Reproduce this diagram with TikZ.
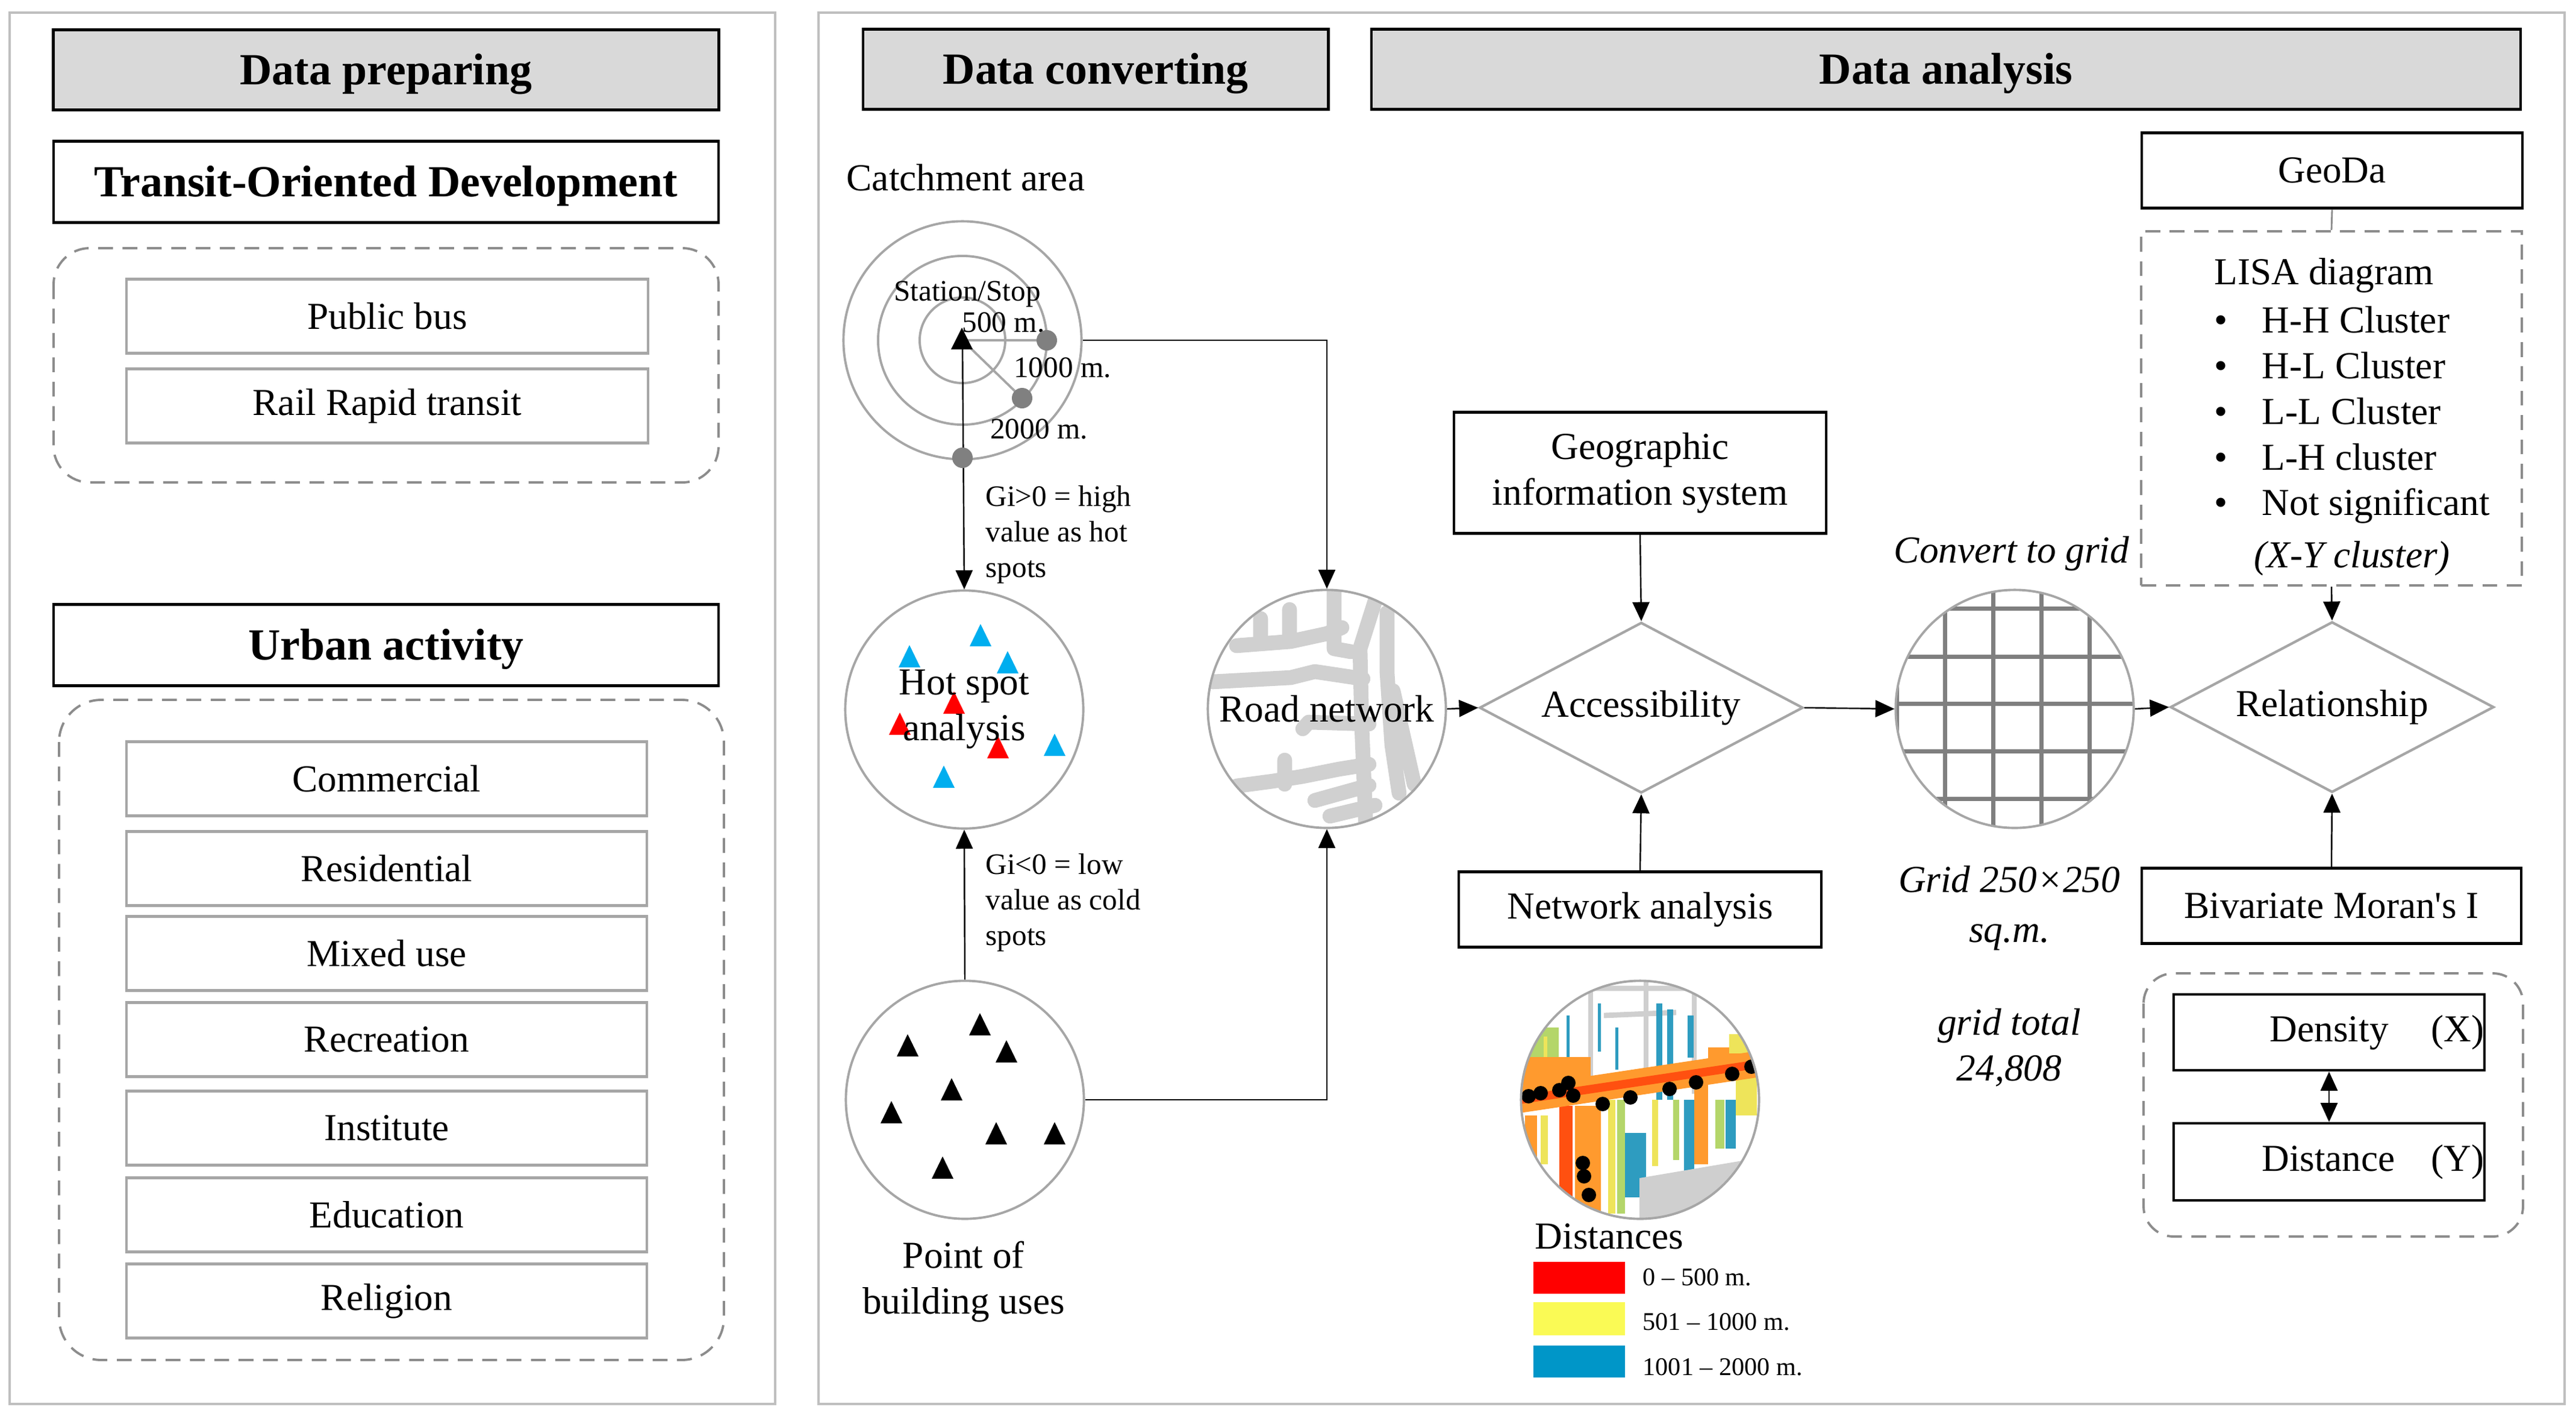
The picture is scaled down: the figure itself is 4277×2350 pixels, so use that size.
\documentclass[tikz,border=0pt]{standalone}
\usepackage{fontspec}
\setmainfont{Liberation Serif}
\usetikzlibrary{arrows.meta,shapes.geometric}
\definecolor{headgray}{HTML}{D9D9D9}
\definecolor{framegray}{HTML}{BFBFBF}
\definecolor{linegray}{HTML}{A6A6A6}
\definecolor{dashgray}{HTML}{8C8C8C}
\definecolor{roadgray}{HTML}{D0D0D0}
\definecolor{gridgray}{HTML}{7F7F7F}
\definecolor{dotgray}{HTML}{808080}
\definecolor{hotblue}{HTML}{00AEEF}
\definecolor{hotred}{HTML}{FF0000}
\definecolor{legred}{HTML}{FF0000}
\definecolor{legyellow}{HTML}{FAFA55}
\definecolor{legblue}{HTML}{0096C8}
\definecolor{maporange}{HTML}{FF9A2E}
\definecolor{mapred}{HTML}{FF5010}
\definecolor{mapyellow}{HTML}{EEE45A}
\definecolor{mapgreen}{HTML}{B4D66A}
\definecolor{mapteal}{HTML}{2E9CC0}
\definecolor{mapgray}{HTML}{CFCFCF}
\tikzset{
  txt/.style={font=\fontsize{18}{21.6}\selectfont, inner sep=0pt, align=center},
  smalltxt/.style={font=\fontsize{14}{16.8}\selectfont, inner sep=0pt, align=left},
  legtxt/.style={font=\fontsize{12}{14}\selectfont, inner sep=0pt},
  itxt/.style={txt, font=\fontsize{18}{21.6}\selectfont\itshape},
  headbox/.style={draw=black, line width=1.3pt, fill=headgray, inner sep=0pt,
    font=\fontsize{21}{25}\selectfont\bfseries, minimum height=1.33cm,
    text height=0.49cm, text depth=0pt},
  blackbox/.style={txt, draw=black, line width=1.2pt, minimum height=1.25cm},
  boldbox/.style={blackbox, font=\fontsize{21}{25}\selectfont\bfseries, minimum height=1.35cm,
    text height=0.49cm, text depth=0pt},
  graybox/.style={txt, draw=linegray, line width=1.2pt, minimum width=8.65cm, minimum height=1.23cm},
  ring/.style={txt, circle, draw=linegray, line width=1.1pt, minimum size=3.95cm},
  decision/.style={txt, diamond, draw=linegray, line width=1.2pt, aspect=1.9,
    minimum width=5.37cm, minimum height=2.83cm},
  dashframe/.style={draw=dashgray, line width=1.1pt, dash pattern=on 7pt off 4.5pt},
  arr/.style={-{Triangle[length=9pt,width=8pt]}, line width=0.7pt},
  arrboth/.style={{Triangle[length=9pt,width=8pt]}-{Triangle[length=9pt,width=8pt]}, line width=0.7pt},
  panel/.style={draw=framegray, line width=1pt}
}
\begin{document}
\begin{tikzpicture}[x=0.01cm,y=-0.01cm]
\fill[white] (0,0) rectangle (4277,2350);
\useasboundingbox (0,0) rectangle (4277,2350);
% the two panels
\draw[panel] (16,21) rectangle (1287,2331);
\draw[panel] (1359,21) rectangle (4258,2331);

% data preparing
\node[headbox, minimum width=11.04cm] (prep) at (641,116) {Data preparing};
\node[boldbox, minimum width=11.04cm] (tod) at (641,302) {Transit-Oriented Development};
\draw[dashframe, rounded corners=0.6cm] (89,412) rectangle (1193,801);
\node[graybox] (bus) at (643,525) {Public bus};
\node[graybox] (rail) at (643,674) {Rail Rapid transit};
\node[boldbox, minimum width=11.04cm] (urban) at (641,1071) {Urban activity};
\draw[dashframe, rounded corners=0.7cm] (98,1162) rectangle (1202,2258);
\foreach \name/\y/\lbl in {com/1293/Commercial, res/1442/Residential, mix/1583/Mixed use,
  rec/1726/Recreation, ins/1873/Institute, edu/2017/Education, reli/2160/Religion}
  \node[graybox, minimum width=8.63cm] (\name) at (642,\y) {\lbl};

% data converting
\node[headbox, minimum width=7.72cm] (conv) at (1819,115) {Data converting};
\node[txt, anchor=west] (catchlbl) at (1405,295) {Catchment area};
\node[ring] (catch) at (1598,565) {};
\draw[linegray, line width=1.1pt] (catch.center) circle (1.4cm) (catch.center) circle (0.71cm);
\coordinate (d1) at (1738,565);
\coordinate (d2) at (1697,661);
\coordinate (d3) at (1598,760);
\draw[linegray, line width=1.1pt] (d1) -- (catch.center) -- (d2);
\node[smalltxt] (stn) at (1606,488) {Station/Stop};
\node[smalltxt] (m500) at (1666,535) {500 m.};
\node[smalltxt] (m1000) at (1764,610) {1000 m.};
\node[smalltxt] (m2000) at (1725,712) {2000 m.};

% hot spots
\foreach \x/\y in {1510/1091, 1628/1056, 1673/1101, 1751/1238, 1567/1291}
  \fill[hotblue] (\x,\y-20) -- (\x-18,\y+17) -- (\x+18,\y+17) -- cycle;
\foreach \x/\y in {1584/1168, 1494/1203, 1657/1242}
  \fill[hotred] (\x,\y-20) -- (\x-18,\y+17) -- (\x+18,\y+17) -- cycle;
\node[ring] (hot) at (1601,1178) {Hot spot\\analysis};

% building uses
\foreach \x/\y in {1627/1702, 1507/1737, 1671/1747, 1580/1810, 1480/1848, 1654/1883, 1751/1883, 1565/1940}
  \fill (\x,\y-20) -- (\x-18,\y+17) -- (\x+18,\y+17) -- cycle;
\node[ring] (pt) at (1602,1826) {};
\node[txt] (ptlbl) at (1600,2128) {Point of\\building uses};
\node[smalltxt, anchor=west] (gihigh) at (1636,888) {Gi>0 = high\\value as hot\\spots};
\node[smalltxt, anchor=west] (gilow) at (1636,1499) {Gi<0 = low\\value as cold\\spots};

% road network
\begin{scope}
\clip (2203,1177) circle (1.96cm);
\draw[roadgray, line width=7pt, line join=round, line cap=round, shift={(2203,1177)}]
  (-150,-105) -- (-60,-112) -- (0,-125) -- (25,-135)
  (-110,-108) -- (-110,-150)  (-62,-112) -- (-62,-165)
  (12,-195) -- (12,-100) -- (40,-95)
  (85,-195) -- (55,-100) -- (58,30) -- (65,200)
  (100,-160) -- (100,-60) -- (108,60) -- (120,140)
  (-190,-45) -- (-60,-52) -- (-20,-62) -- (60,-50)
  (-40,33) -- (-30,22) -- (70,25)
  (-150,128) -- (-90,120) -- (-40,112) -- (20,100) -- (70,92)
  (-70,85) -- (-70,125)  (-20,152) -- (70,127)  (5,178) -- (80,160)
  (110,-30) -- (145,125);
\end{scope}
\node[ring] (road) at (2203,1177) {Road network};

\draw[arr] (catch.center) -- (hot.north);
\foreach \d in {d1,d2,d3} \fill[dotgray] (\d) circle (0.17cm);
\fill (1597,544) -- (1579,580) -- (1615,580) -- cycle;
\draw[arr] (catch.east) -| (road.north);
\draw[arr] (pt.north) -- (hot.south);
\draw[arr] (pt.east) -| (road.south);

% data analysis
\node[headbox, minimum width=19.07cm] (ana) at (3231,115) {Data analysis};
\node[blackbox, minimum width=6.18cm, minimum height=2.01cm] (gis) at (2723,785) {Geographic\\information system};
\node[decision] (acc) at (2725,1175) {Accessibility};
\node[blackbox, minimum width=6.01cm] (net) at (2723,1510) {Network analysis};
\draw[arr] (road.east) -- (acc.west);
\draw[arr] (gis.south) -- (acc.north);
\draw[arr] (net.north) -- (acc.south);

% distance map
\begin{scope}
\clip (2723,1826) circle (1.96cm);
\begin{scope}[shift={(2723,1826)}]
\foreach \a in {-82,10,90} \draw[mapgray, line width=2.5pt] (\a,-200) -- (\a,-10);
\draw[mapgray, line width=2.5pt] (-76,-185) -- (113,-185) (-60,-140) -- (60,-145);
\foreach \a/\b/\w/\h/\c in {-122/-140/5/100/mapteal, -70/-160/5/80/mapteal, -41/-120/5/70/mapteal,
  27/-160/10/160/mapteal, 45/-150/10/150/mapteal, 79/-140/10/70/mapteal,
  -185/-120/50/50/mapgreen, -160/-105/6/40/mapyellow, -194/-71/112/49/maporange,
  113/-87/69/43/maporange, 148/-109/34/32/mapyellow,
  -191/26/20/81/maporange, -165/26/12/81/mapyellow, -134/10/22/179/mapred, -108/10/43/179/maporange,
  -53/0/12/189/mapyellow, -38/0/13/189/mapgreen, -25/55/35/107/mapteal,
  73/0/17/135/mapteal, 90/-27/23/134/maporange, 125/0/15/81/mapgreen, 142/0/17/81/mapteal,
  159/-44/35/70/mapyellow, 20/0/10/110/mapyellow, 55/0/10/100/mapgreen}
  \fill[\c] (\a,\b) rectangle ++(\w,\h);
\fill[mapgray] (-1,130) -- (176,100) -- (200,200) -- (-1,200) -- cycle;
\fill[maporange] (-200,-22) -- (200,-82) -- (200,-38) -- (-200,22) -- cycle;
\draw[mapred, line width=4pt] (-200,0) -- (200,-60);
\foreach \a/\b in {-185/-6, -165/-11, -134/-16, -119/-28, -111/-7, -62/7, -16/-4, 49/-18,
  93/-29, 153/-43, 185/-55, -95/105, -93/127, -85/158}
  \fill (\a,\b) circle (0.12cm);
\end{scope}
\end{scope}
\node[ring] (map) at (2723,1826) {};
\node[txt, anchor=west] (dist) at (2548,2053) {Distances};
\fill[legred] (2546,2095) rectangle (2698,2148);
\fill[legyellow] (2546,2162) rectangle (2698,2217);
\fill[legblue] (2546,2234) rectangle (2698,2287);
\node[legtxt, anchor=west] (l1) at (2727,2121) {0 -- 500 m.};
\node[legtxt, anchor=west] (l2) at (2727,2195) {501 -- 1000 m.};
\node[legtxt, anchor=west] (l3) at (2727,2270) {1001 -- 2000 m.};

% grid
\begin{scope}
\clip (3345,1177) circle (1.97cm);
\foreach \v in {-196,-116,-36,44,124} \draw[gridgray, line width=2pt] (3345+\v,970) -- (3345+\v,1390);
\foreach \h in {-167,-87,-9,70,149} \draw[gridgray, line width=2pt] (3140,1177+\h) -- (3550,1177+\h);
\end{scope}
\node[ring] (grid) at (3345,1177) {};
\node[itxt] (convlbl) at (3340,919) {Convert to grid};
\node[itxt] (gridsize) at (3336,1508) {Grid 250×250\\[2pt]sq.m.};
\node[itxt] (gridtot) at (3336,1739) {grid total\\24,808};
\draw[arr] (acc.east) -- (grid.west);

% GeoDa and LISA
\node[blackbox, minimum width=6.31cm] (geoda) at (3872,283) {GeoDa};
\node[dashframe, minimum width=6.31cm, minimum height=5.88cm] (lisa) at (3871,678) {};
\node[txt, align=left, anchor=north west] (lisatxt) at (3676,428) {LISA diagram\\[1pt]
  \textbullet\hspace{0.57cm}H-H Cluster\\
  \textbullet\hspace{0.57cm}H-L Cluster\\
  \textbullet\hspace{0.57cm}L-L Cluster\\
  \textbullet\hspace{0.57cm}L-H cluster\\
  \textbullet\hspace{0.57cm}Not significant\\[3pt]
  \hspace*{0.66cm}\textit{(X-Y cluster)}};
\node[decision] (relation) at (3872,1174) {Relationship};
\node[blackbox, minimum width=6.29cm] (moran) at (3871,1504) {Bivariate Moran\textquotesingle s I};
\draw[dashgray, line width=0.8pt] (geoda.south) -- (lisa.north);
\draw[arr] (lisa.south) -- (relation.north);
\draw[arr] (grid.east) -- (relation.west);
\draw[arr] (moran.north) -- (relation.south);
\draw[dashframe, rounded corners=0.5cm] (3559,1616) rectangle (4189,2053);
\node[blackbox, text width=5.15cm, align=right, minimum height=1.26cm] (dens) at (3867,1714) {Density\hspace{0.71cm}(X)};
\node[blackbox, text width=5.15cm, align=right, minimum height=1.28cm] (distn) at (3867,1929) {Distance\hspace{0.6cm}(Y)};
\draw[arrboth] (dens.south) -- (distn.north);
\end{tikzpicture}
\end{document}
